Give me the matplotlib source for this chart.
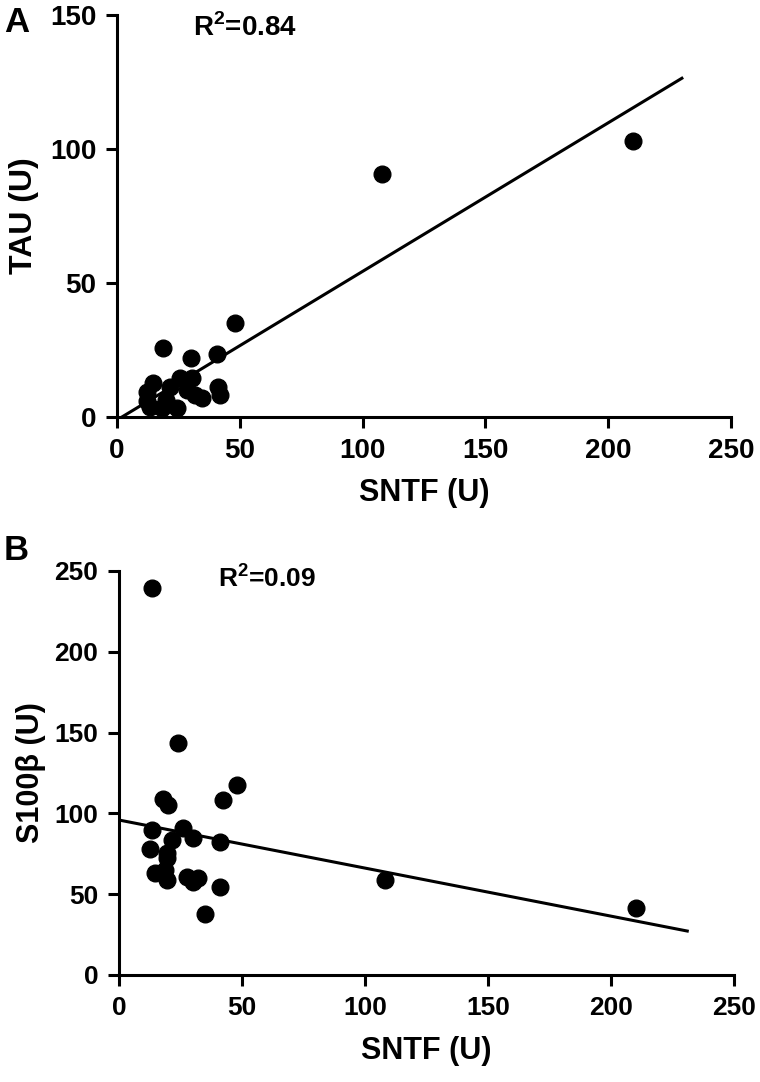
import numpy as np
import matplotlib as mpl
mpl.use('Agg')
import matplotlib.pyplot as plt

# panel A: SNTF vs TAU
sntf_a = [48.0, 18.9, 30.0, 40.6, 14.8, 12.1, 21.6, 25.7, 30.4, 28.4, 31.8, 34.5,
          41.2, 41.9, 13.4, 18.2, 24.3, 12.1, 20.0, 107.8, 210.0]
tau = [35.0, 25.9, 21.9, 23.5, 12.6, 9.4, 11.3, 14.4, 14.4, 10.1, 8.2, 7.0,
       11.3, 8.2, 3.8, 3.2, 3.2, 6.0, 6.5, 90.6, 103.0]
fit_x_a = [2, 230]
fit_y_a = [0, 126.4]

# panel B: SNTF vs S100b
sntf_b = [13.3, 24.0, 18.0, 20.0, 47.8, 42.1, 13.3, 26.1, 21.4, 30.2, 41.1, 12.6,
          19.4, 19.4, 14.6, 18.7, 19.4, 27.5, 30.2, 32.2, 41.1, 35.0, 108.1, 210.2]
s100b = [239.3, 143.6, 108.7, 105.5, 117.6, 108.3, 89.7, 90.8, 83.5, 84.6, 82.5, 77.8,
         75.3, 72.2, 62.9, 65.0, 58.8, 60.8, 57.7, 59.8, 54.6, 37.7, 58.8, 41.3]
fit_x_b = [0, 231]
fit_y_b = [95.9, 27.2]

W, H = 760, 1082


def figCreate():
    mpl.rcParams['font.family'] = 'Liberation Sans'
    mpl.rcParams['font.weight'] = 'bold'
    mpl.rcParams['mathtext.fontset'] = 'custom'
    mpl.rcParams['mathtext.rm'] = 'Liberation Sans:bold'
    mpl.rcParams['mathtext.bf'] = 'Liberation Sans:bold'
    fig = plt.figure(figsize=(W / 100, H / 100), dpi=100)
    return fig


def styleAxes(ax, xmax, ymax, ystep, fsize):
    ax.set_xlim(0, xmax)
    ax.set_ylim(0, ymax)
    ax.set_xticks(np.arange(0, xmax + 1, 50))
    ax.set_yticks(np.arange(0, ymax + 1, ystep))
    for s in ['top', 'right']:
        ax.spines[s].set_visible(False)
    for s in ['left', 'bottom']:
        ax.spines[s].set_linewidth(2.2)
    ax.tick_params(direction='out', length=8, width=2.2, labelsize=fsize, pad=7)
    for lab in ax.get_xticklabels() + ax.get_yticklabels():
        lab.set_fontweight('bold')


fig = figCreate()

# pixel boxes -> figure fractions
axA = fig.add_axes([117 / W, 1 - 417 / H, 614 / W, 402 / H])
axA.plot(fit_x_a, fit_y_a, color='black', lw=2.2, zorder=2)
axA.plot(sntf_a, tau, 'o', color='black', ms=12, zorder=3, clip_on=False)
styleAxes(axA, 250, 150, 50, 20)
axA.set_ylabel('TAU (U)', fontsize=23, fontweight='bold', labelpad=8)
axA.set_xlabel('SNTF (U)', fontsize=22, fontweight='bold', labelpad=10)

axB = fig.add_axes([119 / W, 1 - 975 / H, 615 / W, 404 / H])
axB.plot(fit_x_b, fit_y_b, color='black', lw=2.2, zorder=2)
axB.plot(sntf_b, s100b, 'o', color='black', ms=12, zorder=3, clip_on=False)
styleAxes(axB, 250, 250, 50, 19)
axB.set_ylabel('S100β (U)', fontsize=22, fontweight='bold', labelpad=6)
axB.set_xlabel('SNTF (U)', fontsize=22, fontweight='bold', labelpad=12)

fig.text(4 / W, 1 - 22 / H, 'A', fontsize=25, fontweight='bold', va='center')
fig.text(4 / W, 1 - 550 / H, 'B', fontsize=25, fontweight='bold', va='center')
fig.text(193 / W, 1 - 28 / H, 'R$^\\mathbf{2}$=0.84', fontsize=20, fontweight='bold',
         va='center')
fig.text(218 / W, 1 - 578 / H, 'R$^\\mathbf{2}$=0.09', fontsize=19, fontweight='bold',
         va='center')

plt.savefig('out.png', dpi=100)
plt.close('all')
